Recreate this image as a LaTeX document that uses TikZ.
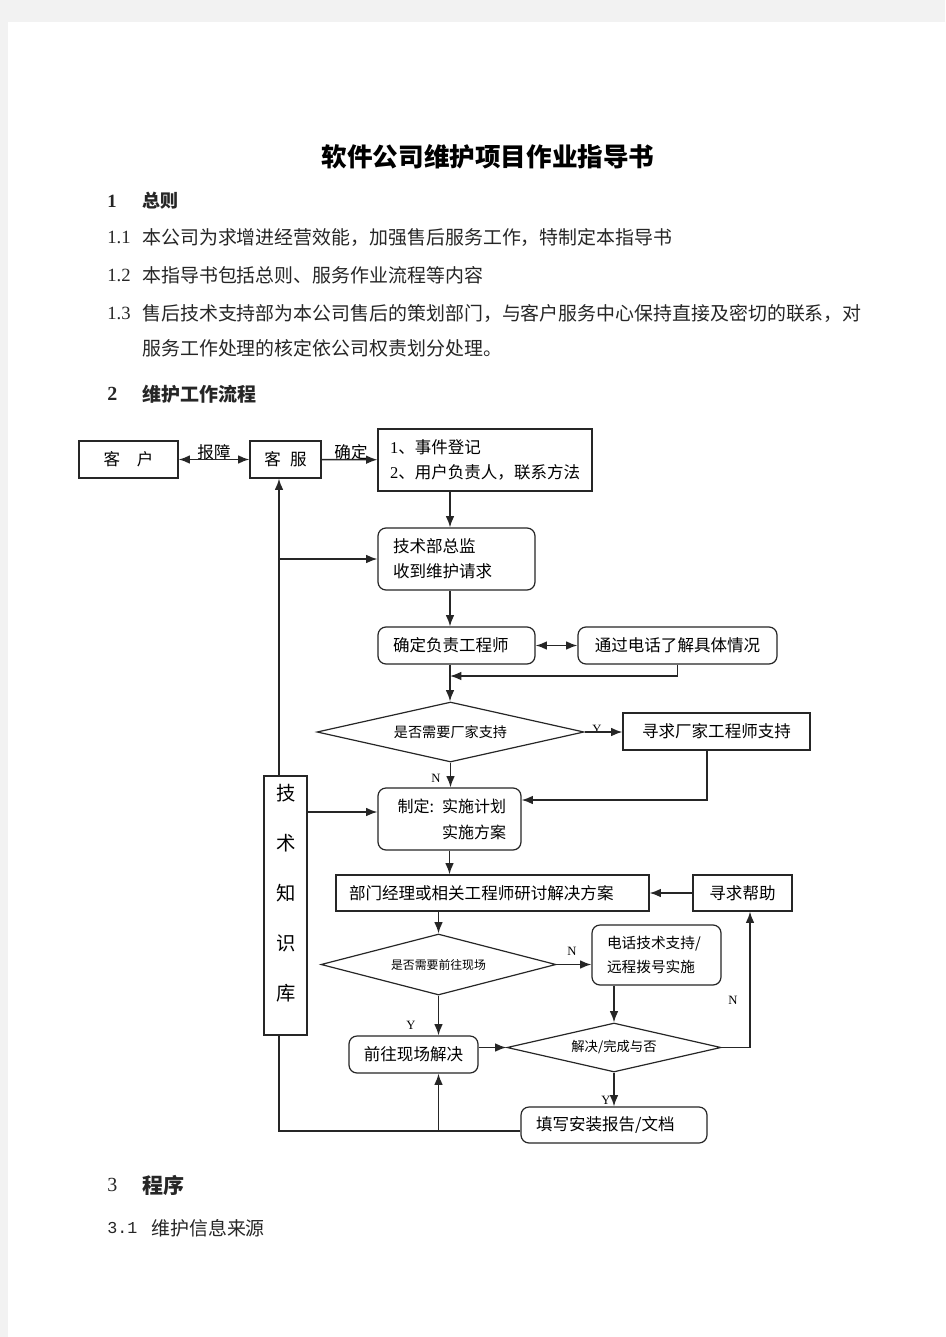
\documentclass[tikz,border=0pt]{standalone}
\usepackage{fontspec}
\setmainfont{Liberation Serif}
\setmonofont{Liberation Mono}
\newfontfamily\cjk{Noto Sans CJK SC}
\usetikzlibrary{shapes.geometric,arrows.meta}

\begin{document}
\begin{tikzpicture}[x=0.75pt, y=-0.75pt,
    >={Latex[length=8.5pt,width=6.5pt]},
    box/.style = {draw=black!85, line width=0.9pt, inner sep=0pt, align=center,
                  font=\cjk\fontsize{12.4}{18.75}\selectfont},
    rbox/.style = {box, rounded corners=6pt},
    dec/.style = {draw=black!85, diamond, line width=0.9pt, inner sep=0pt, aspect=4},
    conn/.style = {draw=black!85, line width=1.1pt, ->},
    line/.style = {draw=black!85, line width=1pt},
    lbl/.style = {inner sep=0pt, font=\cjk\fontsize{12.4}{15}\selectfont},
    yn/.style = {inner sep=0pt, font=\rmfamily\fontsize{9.5}{10}\selectfont},
    body/.style = {anchor=west, inner sep=0pt, text=black!85,
                   font=\cjk\fontsize{14.2}{17}\selectfont},
    num/.style = {anchor=west, inner sep=0pt, text=black!85,
                  font=\rmfamily\fontsize{14}{17}\selectfont}]

    % page
    \fill[black!5] (0,0) rectangle (945,1337);
    \fill[white] (8,22) rectangle (945,1337);
    \useasboundingbox (0,0) rectangle (945,1337);

    % heading text
    \node[inner sep=0pt, font=\cjk\bfseries\fontsize{19.2}{22}\selectfont] (title) at (488,157) {软件公司维护项目作业指导书};
    \node[num, font=\rmfamily\bfseries\fontsize{14}{17}\selectfont] (n1) at (107,201) {1};
    \node[body, font=\cjk\bfseries\fontsize{13.5}{17}\selectfont] (h1) at (142,201) {总则};
    \node[num] (s11) at (107,237) {1.1};
    \node[body] (t11) at (142,237) {本公司为求增进经营效能，加强售后服务工作，特制定本指导书};
    \node[num] (s12) at (107,275) {1.2};
    \node[body] (t12) at (142,275) {本指导书包括总则、服务作业流程等内容};
    \node[num] (s13) at (107,313) {1.3};
    \node[body] (t13) at (142,313) {售后技术支持部为本公司售后的策划部门，与客户服务中心保持直接及密切的联系，对};
    \node[body] (t13b) at (142,348) {服务工作处理的核定依公司权责划分处理。};
    \node[num, font=\rmfamily\bfseries\fontsize{15}{17}\selectfont] (n2) at (107,394) {2};
    \node[body, font=\cjk\bfseries\fontsize{14.25}{17}\selectfont] (h2) at (142,394) {维护工作流程};

    % flow chart
    \node[box, minimum width=74.25pt, minimum height=27.75pt] (kehu) at (128.5,459.5) {客　户};
    \node[box, minimum width=53.25pt, minimum height=27.75pt] (kefu) at (285.5,459.5) {客\hspace{7pt}服};
    \node[box, minimum width=160.5pt, minimum height=46.5pt, text width=142.5pt, inner xsep=9pt, align=left] (dengji) at (485,460)
        {{\rmfamily 1}、事件登记\\{\rmfamily 2}、用户负责人，联系方法};
    \node[rbox, minimum width=117.75pt, minimum height=46.5pt, text width=95.25pt, inner xsep=11.25pt, align=left] (zongjian) at (456.5,559)
        {技术部总监\\收到维护请求};
    \node[rbox, minimum width=117.75pt, minimum height=27.75pt, text width=95.25pt, inner xsep=11.25pt, align=left] (fuze) at (456.5,645.5)
        {确定负责工程师};
    \node[rbox, minimum width=149.25pt, minimum height=27.75pt] (dianhua) at (677.5,645.5) {通过电话了解具体情况};
    \node[dec, minimum width=200.25pt, minimum height=45pt, font=\cjk\fontsize{10.6}{12}\selectfont] (d1) at (450.5,732) {是否需要厂家支持};
    \node[box, minimum width=140.25pt, minimum height=27.75pt] (changjia) at (716.5,731.5) {寻求厂家工程师支持};
    \node[rbox, minimum width=107.25pt, minimum height=46.5pt, text width=84.75pt, inner xsep=11.25pt, align=right,
          font=\cjk\fontsize{12}{19.5}\selectfont] (zhiding) at (449.5,819) {制定: 实施计划\\实施方案};
    \node[box, minimum width=234.75pt, minimum height=27pt, text width=215.25pt, inner xsep=9.75pt, align=left] (bumen) at (492.5,893)
        {部门经理或相关工程师研讨解决方案};
    \node[box, minimum width=74.25pt, minimum height=27pt] (bangzhu) at (742.5,893) {寻求帮助};
    \node[dec, minimum width=176.25pt, minimum height=45.75pt, font=\cjk\fontsize{8.9}{10}\selectfont] (d2) at (438.5,964.5) {是否需要前往现场};
    \node[rbox, minimum width=96.75pt, minimum height=45pt, text width=74.25pt, inner xsep=11.25pt, align=left,
          font=\cjk\fontsize{11}{18}\selectfont] (yuancheng) at (656.5,955) {电话技术支持/\\远程拨号实施};
    \node[rbox, minimum width=96.75pt, minimum height=27.75pt] (xianchang) at (413.5,1054.5) {前往现场解决};
    \node[dec, minimum width=160.5pt, minimum height=36.75pt, font=\cjk\fontsize{10}{12}\selectfont] (d3) at (614,1047.5) {解决/完成与否};
    \node[rbox, minimum width=139.5pt, minimum height=27pt, text width=117pt, inner xsep=11.25pt, align=left] (tianxie) at (614,1125)
        {填写安装报告/文档};
    \node[box, line width=1.2pt, minimum width=32.25pt, minimum height=194.25pt] (zhishiku) at (285.5,905.5) {};
    \node[inner sep=0pt, align=center, font=\cjk\fontsize{14.5}{37.5}\selectfont] (kbtext) at (286.5,893.5) {技\\术\\知\\识\\库};

    % labels
    \node[lbl] (baozhang) at (214,452) {报障};
    \node[lbl] (queding) at (351,452) {确定};
    \node[yn] (y1) at (597,729) {Y};
    \node[yn] (n1c) at (436,778) {N};
    \node[yn] (n2c) at (572,951) {N};
    \node[yn] (y2) at (411,1025) {Y};
    \node[yn] (n3c) at (733,1000) {N};
    \node[yn] (y3) at (606,1100) {Y};

    % helper points
    \coordinate (cx) at (450,0);
    \coordinate (lx) at (279,0);
    \coordinate (merge) at (450,676);
    \coordinate (kbrow) at (0,812);
    \coordinate (nright) at (750,1047.5);
    \coordinate (bot) at (0,1131);

    % edges
    \draw[conn, <->] (kehu) -- (kefu);
    \draw[conn] (kefu) -- (dengji);
    \draw[conn] (dengji.south -| cx) -- (zongjian.north -| cx);
    \draw[conn] (lx |- zongjian.west) -- (zongjian.west);
    \draw[conn] (zongjian.south -| cx) -- (fuze.north -| cx);
    \draw[conn, <->] (fuze) -- (dianhua);
    \draw[conn] (dianhua.south) |- (merge);
    \draw[conn] (fuze.south -| cx) -- (d1.north -| cx);
    \draw[conn] (d1.east) -- (changjia.west |- d1.east);
    \draw[conn] ([xshift=-7pt]changjia.south) |- ([yshift=14.25pt]zhiding.east);
    \draw[conn] (d1.south) -- (zhiding.north -| d1.south);
    \draw[conn] (zhishiku.east |- kbrow) -- (zhiding.west |- kbrow);
    \draw[conn] (zhiding.south) -- (bumen.north -| zhiding.south);
    \draw[conn] (bangzhu) -- (bumen);
    \draw[conn] (bumen.south -| d2.north) -- (d2.north);
    \draw[conn] (d2.east) -- (yuancheng.west |- d2.east);
    \draw[conn] (d2.south) -- (xianchang.north -| d2.south);
    \draw[conn] (xianchang.east |- d3.west) -- (d3.west);
    \draw[conn] (yuancheng.south -| d3.north) -- (d3.north);
    \draw[conn] (d3.east) -- (nright) -- (nright |- bangzhu.south);
    \draw[conn] (d3.south) -- (tianxie.north);
    \draw[line] (tianxie.west |- bot) -- (lx |- bot) -- (lx |- zhishiku.south);
    \draw[conn] (lx |- zhishiku.north) -- (lx |- kefu.south);
    \draw[conn] (d2.south |- bot) -- (d2.south |- xianchang.south);

    % closing text
    \node[num, font=\rmfamily\fontsize{15}{17}\selectfont] (n3) at (107,1185) {3};
    \node[body, font=\cjk\bfseries\fontsize{15.75}{18}\selectfont] (h3) at (142,1185) {程序};
    \node[num, font=\ttfamily\fontsize{12.5}{14}\selectfont] (s31) at (107,1228) {3.1};
    \node[body] (t31) at (151,1228) {维护信息来源};
\end{tikzpicture}
\end{document}
